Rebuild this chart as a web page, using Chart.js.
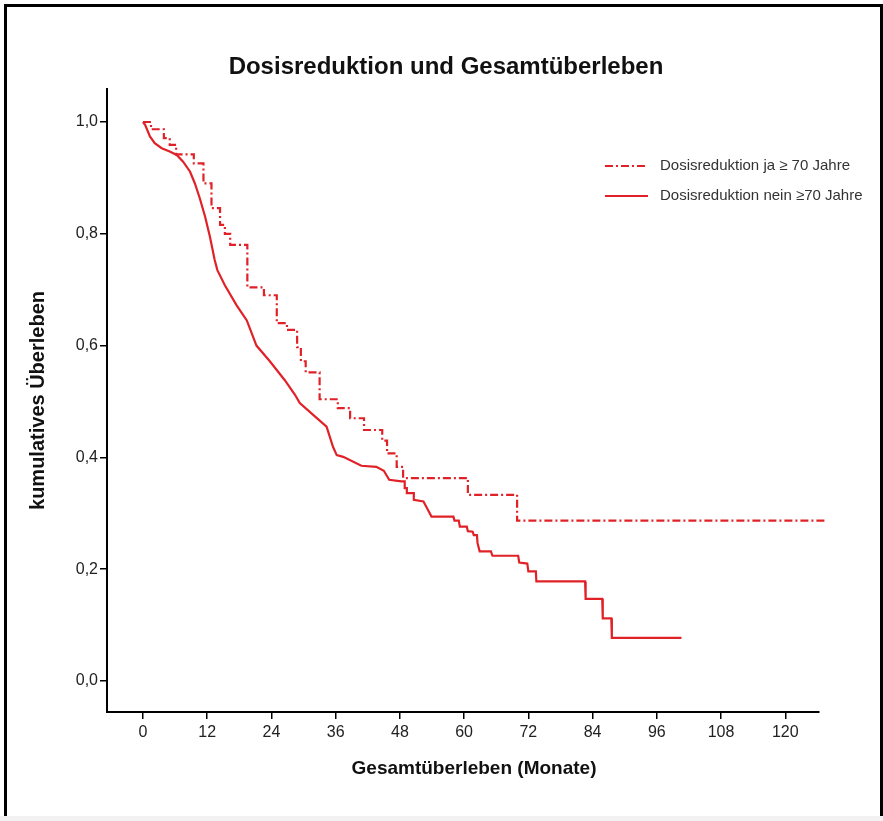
<!DOCTYPE html>
<html>
<head>
<meta charset="utf-8">
<script src="https://cdn.jsdelivr.net/npm/chart.js@4.4.1/dist/chart.umd.min.js"></script>
<style>
  html, body { margin: 0; padding: 0; background: #fff; }
  #frame {
    position: absolute; left: 4px; top: 4px; width: 873px; height: 809px;
    border: 3px solid #000; border-bottom: 1px solid #ddd;
  }
  #strip { position: absolute; left: 0; top: 816px; width: 883px; height: 5px; background: #f2f2f2; }
  #c { position: absolute; left: 0; top: 0; }
</style>
</head>
<body>
<div id="frame"></div>
<div id="strip"></div>
<canvas id="c" width="883" height="821"></canvas>
<script>
// Kaplan-Meier values (months, cumulative survival)
const chartTitle = 'Dosisreduktion und Gesamtüberleben'
const xTitle = 'Gesamtüberleben (Monate)'
const yTitle = 'kumulatives Überleben'
const seriesNames = ['Dosisreduktion ja \u2265 70 Jahre', 'Dosisreduktion nein \u226570 Jahre']

const jaMonths = [0, 1.5, 3.9, 5.0, 6.2, 9.5, 11.3, 12.8, 14.4, 15.3, 16.3, 19.5, 22.6, 25.0, 26.9,
  28.8, 29.5, 30.4, 33.0, 36.4, 38.7, 41.3, 44.7, 45.6, 47.4, 48.6, 60.7, 69.9, 127.7]
const jaSurv = [1.0, 0.987, 0.971, 0.959, 0.942, 0.926, 0.89, 0.846, 0.816, 0.80, 0.780, 0.704, 0.69, 0.640, 0.628,
  0.597, 0.572, 0.552, 0.504, 0.488, 0.470, 0.449, 0.43, 0.407, 0.383, 0.363, 0.333, 0.287, 0.287]

const neinMonths = [0, 0.4, 1.3, 2.2, 3.5, 5.0, 6.3, 7.5, 8.8, 9.7, 10.6, 11.6, 12.5, 13.4, 13.9, 15.3,
  17.5, 19.4, 21.2, 23.7, 26.5, 28.4, 29.3, 31.8, 34.3, 35.5, 36.2, 37.4, 40.8, 43.6, 45.0, 46.0, 48.3,
  48.9, 48.9, 49.3, 49.3, 50.6, 50.6, 52.4, 53.3, 53.9, 58.0, 58.2, 59.0, 59.2, 60.5, 60.7, 61.6, 61.8,
  62.4, 62.5, 62.9, 65.0, 65.3, 70.1, 70.3, 71.8, 72.0, 73.4, 73.5, 82.6, 82.7, 85.8, 85.9, 87.5, 87.6, 100.6]
const neinSurv = [1.0, 0.995, 0.974, 0.962, 0.953, 0.947, 0.941, 0.929, 0.911, 0.890, 0.864, 0.831, 0.795, 0.753, 0.735, 0.708,
  0.672, 0.645, 0.600, 0.572, 0.538, 0.512, 0.497, 0.476, 0.455, 0.419, 0.404, 0.401, 0.385, 0.383, 0.376, 0.360, 0.357,
  0.357, 0.345, 0.345, 0.336, 0.336, 0.324, 0.321, 0.305, 0.294, 0.294, 0.287, 0.287, 0.276, 0.276, 0.268, 0.267, 0.261,
  0.261, 0.247, 0.232, 0.232, 0.224, 0.224, 0.212, 0.210, 0.196, 0.196, 0.178, 0.178, 0.147, 0.147, 0.112, 0.112, 0.077, 0.077]

const xTicks = [0, 12, 24, 36, 48, 60, 72, 84, 96, 108, 120]
const yTicks = [0, 0.2, 0.4, 0.6, 0.8, 1.0]

const RED = 'rgb(224, 34, 40)'
const DASHDOT = [8, 3, 2, 3]
const tickFont = { family: "'Liberation Sans', Arial", size: 16 }

function toPoints(xs, ys) {
  return xs.map((x, i) => ({ x: x, y: ys[i] }))
}

// chart title, x title and legend drawn by hand (they sit off-centre in the original)
const textPlugin = {
  id: 'kmText',
  afterDatasetsDraw(chart) {
    const ctx = chart.ctx
    ctx.save()
    ctx.fillStyle = '#111'
    ctx.textAlign = 'center'
    ctx.textBaseline = 'middle'
    ctx.font = "bold 24px 'Liberation Sans', Arial"
    ctx.fillText(chartTitle, 446, 67)
    ctx.font = "bold 19px 'Liberation Sans', Arial"
    ctx.fillText(xTitle, 474, 769)

    const rows = [166, 196]
    chart.data.datasets.forEach((ds, i) => {
      ctx.strokeStyle = ds.borderColor
      ctx.lineWidth = 2.2
      ctx.setLineDash(ds.borderDash || [])
      ctx.beginPath()
      ctx.moveTo(605, rows[i])
      ctx.lineTo(648, rows[i])
      ctx.stroke()
      ctx.setLineDash([])
      ctx.fillStyle = '#333'
      ctx.textAlign = 'left'
      ctx.font = "15px 'Liberation Sans', Arial"
      ctx.fillText(ds.label, 660, rows[i])
    })
    ctx.restore()
  }
}

const config = {
  type: 'line',
  data: {
    datasets: [
      {
        label: seriesNames[0],
        data: toPoints(jaMonths, jaSurv),
        borderColor: RED,
        borderWidth: 2.2,
        borderDash: DASHDOT,
        stepped: true,
        pointRadius: 0,
        fill: false,
        clip: { left: 0, top: 0, right: 10, bottom: 0 },
      },
      {
        label: seriesNames[1],
        data: toPoints(neinMonths, neinSurv),
        borderColor: RED,
        borderWidth: 2.2,
        pointRadius: 0,
        fill: false,
        tension: 0,
      },
    ],
  },
  options: {
    responsive: false,
    animation: false,
    devicePixelRatio: 1,
    layout: { padding: { left: 20, top: 89, right: 64, bottom: 30 } },
    scales: {
      x: {
        type: 'linear',
        min: -6.72,
        max: 126.3,
        afterBuildTicks: (s) => { s.ticks = xTicks.map(v => ({ value: v })) },
        afterFit: (s) => { s.height = 79 },
        grid: { drawOnChartArea: false, drawTicks: true, tickLength: 7, color: '#000', lineWidth: 1.5 },
        border: { display: true, color: '#000', width: 2 },
        ticks: { font: tickFont, color: '#222', padding: 4, maxRotation: 0 },
      },
      y: {
        type: 'linear',
        min: -0.0555,
        max: 1.059,
        afterBuildTicks: (s) => { s.ticks = yTicks.map(v => ({ value: v })) },
        afterFit: (s) => { s.width = 87 },
        grid: { drawOnChartArea: false, drawTicks: true, tickLength: 7, color: '#000', lineWidth: 1.5 },
        border: { display: true, color: '#000', width: 2 },
        ticks: {
          font: tickFont, color: '#222', padding: 2,
          callback: (v) => v.toFixed(1).replace('.', ','),
        },
        title: {
          display: true, text: yTitle, color: '#111',
          font: { family: "'Liberation Sans', Arial", size: 20, weight: 'bold' },
          padding: { top: 6, bottom: 0 },
        },
      },
    },
    plugins: {
      legend: { display: false },
      tooltip: { enabled: false },
      title: { display: false },
    },
  },
  plugins: [textPlugin],
}

const chart = new Chart(document.getElementById('c'), config)
</script>
</body>
</html>
